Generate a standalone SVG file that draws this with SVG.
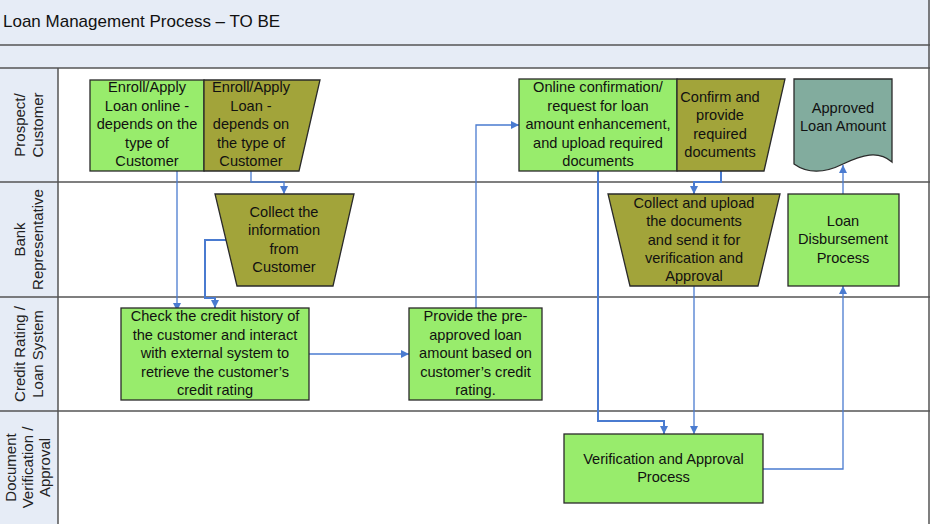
<svg xmlns="http://www.w3.org/2000/svg" width="930" height="524" viewBox="0 0 930 524">
<style>
text{font-family:"Liberation Sans",Arial,sans-serif;fill:#111;}
.t{font-size:14.6px;text-anchor:middle;}
.lane{font-size:15px;text-anchor:middle;fill:#222;}
.g{fill:#98ec6c;stroke:#2a2a2a;stroke-width:1.3;}
.o{fill:#a2a43a;stroke:#2a2a2a;stroke-width:1.3;}
.d{fill:#82ac9e;stroke:#2a2a2a;stroke-width:1.3;}
.hdr{fill:#e6ecf6;}
.ln{stroke:#555;stroke-width:1.5;fill:none;}
.c{fill:none;stroke:#4a7bd0;stroke-width:1.3;}
.c2{fill:none;stroke:#4a7bd0;stroke-width:2;}
</style>
<defs>
<marker id="ah" viewBox="0 0 10 10" refX="10" refY="5" markerWidth="9" markerHeight="8" markerUnits="userSpaceOnUse" orient="auto">
<path d="M0,0 L10,5 L0,10 z" fill="#4a7bd0"/>
</marker>
</defs>
<rect x="0" y="0" width="930" height="524" fill="#fff"/>
<g id="pool">
<rect class="hdr" x="0" y="0" width="930" height="68"/>
<rect class="hdr" x="0" y="68" width="58" height="456"/>
<line class="ln" x1="0" y1="45" x2="930" y2="45"/>
<line class="ln" x1="0" y1="68" x2="930" y2="68"/>
<line class="ln" x1="0" y1="182" x2="930" y2="182"/>
<line class="ln" x1="0" y1="297" x2="930" y2="297"/>
<line class="ln" x1="0" y1="411" x2="930" y2="411"/>
<line class="ln" x1="58" y1="68" x2="58" y2="524"/>
<line class="ln" x1="929" y1="0" x2="929" y2="524"/>
<text x="3" y="27" style="font-size:17px">Loan Management Process – TO BE</text>
<text class="lane" transform="translate(29,125) rotate(-90)"><tspan x="0" y="-4">Prospect/</tspan><tspan x="0" y="14">Customer</tspan></text>
<text class="lane" transform="translate(29,239.5) rotate(-90)"><tspan x="0" y="-4">Bank</tspan><tspan x="0" y="14">Representative</tspan></text>
<text class="lane" transform="translate(29,354) rotate(-90)"><tspan x="0" y="-4">Credit Rating /</tspan><tspan x="0" y="14">Loan System</tspan></text>
<text class="lane" transform="translate(29,467.5) rotate(-90)"><tspan x="0" y="-13">Document</tspan><tspan x="0" y="4">Verification /</tspan><tspan x="0" y="21">Approval</tspan></text>
</g>
<g id="connectors">
<path class="c" d="M177,171 V311" marker-end="url(#ah)"/>
<path class="c" d="M251,171 V182 H284 V194" marker-end="url(#ah)"/>
<path class="c2" d="M226,240 H205 V298 H215 V308" marker-end="url(#ah)"/>
<path class="c" d="M309,354 H409" marker-end="url(#ah)"/>
<path class="c" d="M476,308 V125 H519" marker-end="url(#ah)"/>
<path class="c2" d="M598,171 V421 H664 V434" marker-end="url(#ah)"/>
<path class="c2" d="M721,171 V182 H694 V194" marker-end="url(#ah)"/>
<path class="c" d="M694,286 V434" marker-end="url(#ah)"/>
<path class="c" d="M763,469 H843 V286" marker-end="url(#ah)"/>
<path class="c" d="M843,194 V165" marker-end="url(#ah)"/>
</g>
<g id="n-enroll-online">
<rect class="g" x="90" y="80" width="114" height="91"/>
<text class="t"><tspan x="147" y="92">Enroll/Apply</tspan><tspan x="147" y="110.5">Loan online -</tspan><tspan x="147" y="129">depends on the</tspan><tspan x="147" y="147.5">type of</tspan><tspan x="147" y="166">Customer</tspan></text>
</g>
<g id="n-enroll-manual">
<path class="o" d="M204,80 H320 L299,171 H204 Z"/>
<text class="t"><tspan x="251" y="92">Enroll/Apply</tspan><tspan x="251" y="110.5">Loan -</tspan><tspan x="251" y="129">depends on</tspan><tspan x="251" y="147.5">the type of</tspan><tspan x="251" y="166">Customer</tspan></text>
</g>
<g id="n-online-confirm">
<rect class="g" x="519" y="79" width="158" height="92"/>
<text class="t"><tspan x="598" y="92">Online confirmation/</tspan><tspan x="598" y="110.5">request for loan</tspan><tspan x="598" y="129">amount enhancement,</tspan><tspan x="598" y="147.5">and upload required</tspan><tspan x="598" y="166">documents</tspan></text>
</g>
<g id="n-confirm-docs">
<path class="o" d="M677,79 H785 L764,171 H677 Z"/>
<text class="t"><tspan x="720" y="101.5">Confirm and</tspan><tspan x="720" y="120">provide</tspan><tspan x="720" y="138.5">required</tspan><tspan x="720" y="157">documents</tspan></text>
</g>
<g id="n-approved-amount">
<path class="d" d="M794,79 H892 V162 C878,150 862,155 843,164 C825,173 808,174 794,164 Z"/>
<text class="t"><tspan x="843" y="112.5">Approved</tspan><tspan x="843" y="130.5">Loan Amount</tspan></text>
</g>
<g id="n-collect-info">
<path class="o" d="M215,194 H354 L333,286 H237 Z"/>
<text class="t"><tspan x="284" y="216.5">Collect the</tspan><tspan x="284" y="235">information</tspan><tspan x="284" y="253.5">from</tspan><tspan x="284" y="272">Customer</tspan></text>
</g>
<g id="n-collect-upload">
<path class="o" d="M608,194 H780 L758,286 H630 Z"/>
<text class="t"><tspan x="694" y="207.5">Collect and upload</tspan><tspan x="694" y="226">the documents</tspan><tspan x="694" y="244.5">and send it for</tspan><tspan x="694" y="263">verification and</tspan><tspan x="694" y="281">Approval</tspan></text>
</g>
<g id="n-disbursement">
<rect class="g" x="788" y="194" width="111" height="92"/>
<text class="t"><tspan x="843" y="225.5">Loan</tspan><tspan x="843" y="244">Disbursement</tspan><tspan x="843" y="262.5">Process</tspan></text>
</g>
<g id="n-credit-check">
<rect class="g" x="121" y="308" width="188" height="92"/>
<text class="t"><tspan x="215" y="321">Check the credit history of</tspan><tspan x="215" y="339.5">the customer and interact</tspan><tspan x="215" y="358">with external system to</tspan><tspan x="215" y="376.5">retrieve the customer’s</tspan><tspan x="215" y="395">credit rating</tspan></text>
</g>
<g id="n-preapproved">
<rect class="g" x="409" y="308" width="133" height="92"/>
<text class="t"><tspan x="475.5" y="321">Provide the pre-</tspan><tspan x="475.5" y="339.5">approved loan</tspan><tspan x="475.5" y="358">amount based on</tspan><tspan x="475.5" y="376.5">customer’s credit</tspan><tspan x="475.5" y="395">rating.</tspan></text>
</g>
<g id="n-verification">
<rect class="g" x="564" y="434" width="199" height="69"/>
<text class="t"><tspan x="663.5" y="464">Verification and Approval</tspan><tspan x="663.5" y="482">Process</tspan></text>
</g>
</svg>
